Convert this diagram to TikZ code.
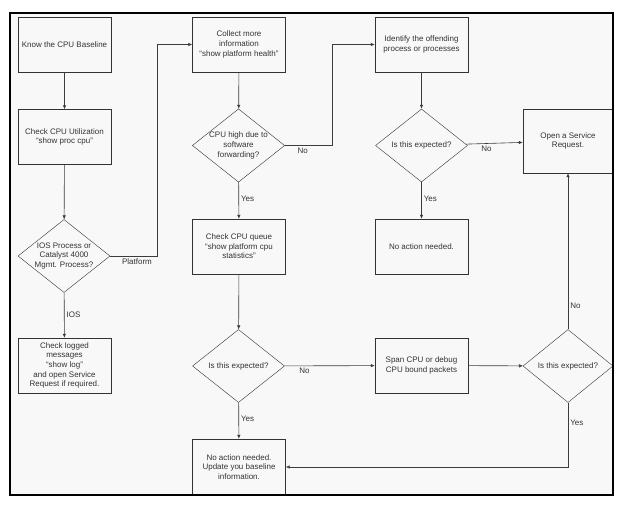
\documentclass[tikz,border=0pt]{standalone}
\usepackage{fontspec}
\setmainfont{Liberation Sans}
\usetikzlibrary{shapes.geometric,arrows.meta}
\definecolor{sheet}{HTML}{F8F8F8}
\definecolor{ink}{HTML}{333333}
\definecolor{wire}{HTML}{3C3C3C}
\tikzstyle{stepbox} = [draw=ink, rectangle, minimum width=93pt, minimum height=55pt, inner sep=1pt, align=center, text=ink, font=\fontsize{8}{9.6}\selectfont]
\tikzstyle{choice} = [draw=ink, diamond, aspect=1.26, minimum width=92pt, minimum height=73pt, inner sep=0pt, align=center, text=ink, font=\fontsize{8}{9.6}\selectfont]
\tikzstyle{link} = [draw=wire, line width=0.6pt, -{Latex[length=4pt,width=3.5pt]}]
\tikzstyle{tag} = [text=ink, inner sep=2pt, font=\fontsize{8}{9.6}\selectfont]

\begin{document}
\begin{tikzpicture}[x=1pt,y=-1pt]
\useasboundingbox (0,0) rectangle (623,516);
\fill[sheet] (10,13) rectangle (613,495);

% left column
\node [stepbox] (baseline) at (64.5,44.5) {Know the CPU Baseline};
\node [stepbox] (util) at (64.5,137) {Check CPU Utilization\\“show proc cpu”};
\node [choice] (ios) at (64,256) {IOS Process or\\Catalyst 4000\\Mgmt. Process?};
\node [stepbox] (logmsg) at (64.5,365.5) {Check logged\\messages\\“show log”\\and open Service\\Request if required.};

% second column
\node [stepbox] (collect) at (239,44.5) {Collect more\\information\\“show platform health”};
\node [choice] (cpuhigh) at (238.5,145.5) {CPU high due to\\software\\forwarding?};
\node [stepbox] (queue) at (239,246.5) {Check CPU queue\\“show platform cpu\\statistics”};
\node [choice] (expect1) at (238.5,366) {Is this expected?};
\node [stepbox, minimum height=56pt] (update) at (239,467) {No action needed.\\Update you baseline\\information.};

% third column
\node [stepbox] (identify) at (421.5,44.5) {Identify the offending\\process or processes};
\node [choice] (expect2) at (421.5,145.5) {Is this expected?};
\node [stepbox] (noaction) at (421.5,246.5) {No action needed.};
\node [stepbox] (span) at (421.5,365.5) {Span CPU or debug\\CPU bound packets};

% right column
\node [stepbox, minimum width=90pt, minimum height=64pt] (request) at (568,141) {Open a Service\\Request.};
\node [choice, minimum width=90pt] (expect3) at (568,366) {Is this expected?};

% connectors
\draw [link] (baseline) -- (util);
\draw [link] (util) -- (ios);
\draw [link] (ios) -- node [tag, right, pos=0.48] {IOS} (logmsg);
\draw [link] (ios.east) -- ++(47,0) node [tag, below, pos=0.57] {Platform} |- (collect.west);
\draw [link] (collect) -- (cpuhigh);
\draw [link] (cpuhigh.east) -- ++(47,0) node [tag, below, pos=0.38] {No} |- (identify.west);
\draw [link] (cpuhigh) -- node [tag, right, pos=0.45] {Yes} (queue);
\draw [link] (queue) -- (expect1);
\draw [link] (expect1) -- node [tag, below, pos=0.22] {No} (span);
\draw [link] (expect1) -- node [tag, right, pos=0.45] {Yes} (update);
\draw [link] (identify) -- (expect2);
\draw [link] (expect2) -- node [tag, below, pos=0.36] {No} (request);
\draw [link] (expect2) -- node [tag, right, pos=0.45] {Yes} (noaction);
\draw [link] (span) -- (expect3);
\draw [link] (expect3) -- node [tag, right, pos=0.15] {No} (request);
\draw [link] (expect3.south) |- node [tag, right, pos=0.16] {Yes} (update.east);

\draw[black, line width=1.1pt] (10,13) rectangle (613,495);
\end{tikzpicture}
\end{document}
